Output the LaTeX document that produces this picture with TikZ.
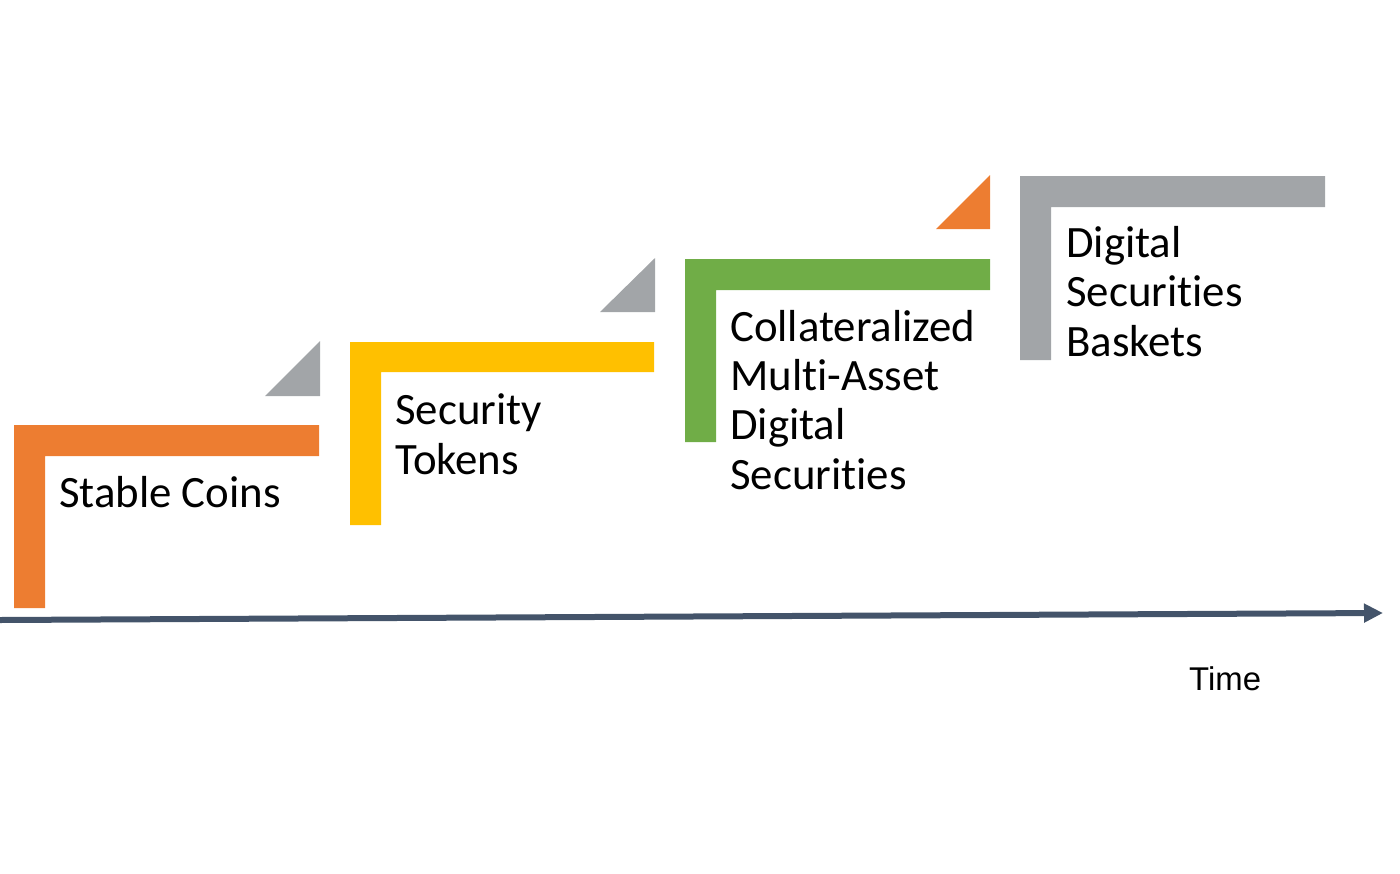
\documentclass[tikz,border=0pt]{standalone}
\usepackage{fontspec}
\setmainfont{Carlito}[Ligatures=NoCommon]
\newfontfamily\axisfont{Liberation Sans}
\usetikzlibrary{arrows.meta}

\definecolor{stepOrange}{HTML}{ED7D31}
\definecolor{stepYellow}{HTML}{FFC000}
\definecolor{stepGreen}{HTML}{70AD47}
\definecolor{stepGray}{HTML}{A2A5A8}
\definecolor{axisBlue}{HTML}{44546A}

\tikzstyle{label} = [anchor=base west, inner sep=0pt, align=left, font=\fontsize{45}{49.5}\selectfont]

\begin{document}
\begin{tikzpicture}[x=1bp,y=-1bp,>={Triangle[length=19bp,width=18bp]}]
            \useasboundingbox (0,0) rectangle (1400,873);
            %
            % We start by drawing the steps
            \fill [stepOrange] (14,425) -- (319,425) -- (319,456) -- (45,456) -- (45,608) -- (14,608) -- cycle;
            \fill [stepGray] (265,396) -- (320,341) -- (320,396) -- cycle;
            \fill [stepYellow] (350,342) -- (654,342) -- (654,372) -- (381,372) -- (381,525) -- (350,525) -- cycle;
            \fill [stepGray] (600,312) -- (655,258) -- (655,312) -- cycle;
            \fill [stepGreen] (685,259) -- (990,259) -- (990,290) -- (716,290) -- (716,442) -- (685,442) -- cycle;
            \fill [stepOrange] (936,229) -- (990,175) -- (990,229) -- cycle;
            \fill [stepGray] (1020,176) -- (1325,176) -- (1325,207) -- (1051,207) -- (1051,360) -- (1020,360) -- cycle;
            %
            % Then the labels of the steps (placed at the last baseline)
            \node [label] (stable) at (59,507) {Stable Coins};
            \node [label] (security) at (395,474) {Security\\Tokens};
            \node [label] (collateral) at (730,489) {Collateralized\\Multi-Asset\\Digital\\Securities};
            \node [label] (baskets) at (1066,356) {Digital\\Securities\\Baskets};
            %
            % The time axis
            \coordinate (start) at (0,620);
            \coordinate (end) at (1383,613);
            \draw [->, axisBlue, line width=6bp] (start) -- (end);
            \node [anchor=base west, inner sep=0pt, font=\axisfont\fontsize{33}{38}\selectfont] (time) at (1189,690) {Time};
            %
        \end{tikzpicture}
\end{document}
